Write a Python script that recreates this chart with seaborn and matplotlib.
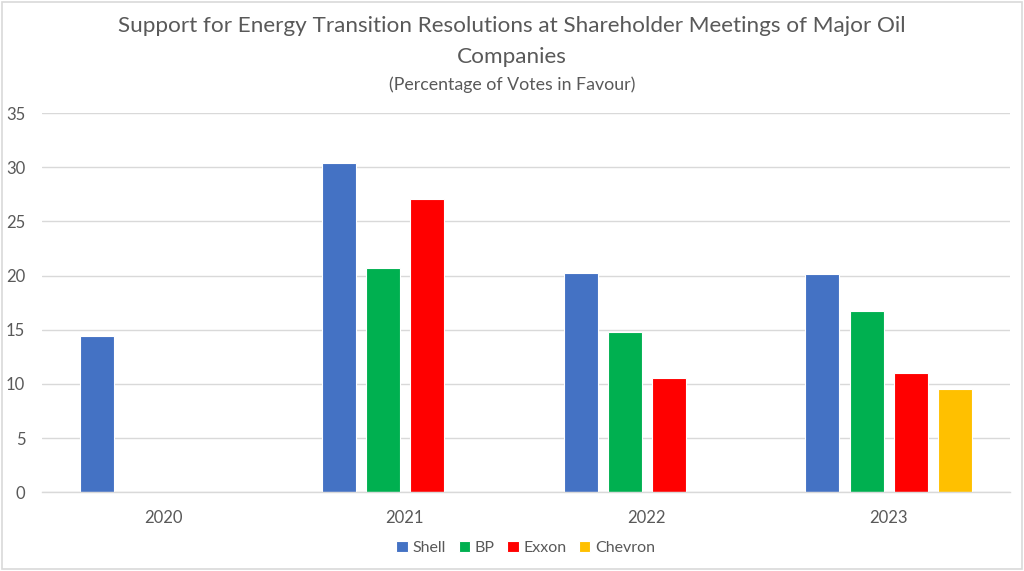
import numpy as np
import pandas as pd
import matplotlib.pyplot as plt
from matplotlib.patches import Rectangle
import seaborn as sns

years = ['2020', '2021', '2022', '2023']
companies = ['Shell', 'BP', 'Exxon', 'Chevron']
shell = [14.4, 30.4, 20.2, 20.1]
bp = [np.nan, 20.7, 14.8, 16.7]
exxon = [np.nan, 27.1, 10.5, 11.0]
chevron = [np.nan, np.nan, np.nan, 9.5]
colors = ['#4472C4', '#00B050', '#FF0000', '#FFC000']

rows = []
for company, values in zip(companies, [shell, bp, exxon, chevron]):
    for year, value in zip(years, values):
        rows.append({'Year': year, 'Company': company, 'Votes': value})
df = pd.DataFrame(rows)

sns.set_theme(style='white')
plt.rcParams['font.family'] = ['Lato', 'DejaVu Sans']
text_color = '#595959'

fig = plt.figure(figsize=(10.24, 5.71), dpi=100)
ax = fig.add_axes([0.041, 0.138, 0.945, 0.664])

sns.barplot(data=df, x='Year', y='Votes', hue='Company', order=years,
            hue_order=companies, palette=colors, width=0.73, gap=0.23,
            edgecolor='white', linewidth=0.8, saturation=1, ax=ax)

ax.set_ylim(0, 35)
ax.set_yticks(range(0, 36, 5))
ax.yaxis.grid(True, color='#d9d9d9', linewidth=1)
ax.set_axisbelow(True)
for side in ['top', 'right', 'left']:
    ax.spines[side].set_visible(False)
ax.spines['bottom'].set_color('#d9d9d9')
ax.spines['bottom'].set_linewidth(1)
ax.tick_params(axis='x', length=0, pad=13, labelsize=12, labelcolor=text_color)
ax.tick_params(axis='y', length=0, pad=12, labelsize=12, labelcolor=text_color)
ax.set_xlabel('')
ax.set_ylabel('')

handles, labels = ax.get_legend_handles_labels()
ax.legend(handles, labels, loc='center', bbox_to_anchor=(0.5, -0.147), ncol=4,
          frameon=False, fontsize=11.5, labelcolor=text_color, handlelength=0.7,
          handleheight=0.7, handletextpad=0.3, columnspacing=0.8)

fig.text(0.5, 0.955, 'Support for Energy Transition Resolutions at Shareholder Meetings of Major Oil',
         ha='center', va='center', fontsize=16.2, color=text_color)
fig.text(0.5, 0.9, 'Companies', ha='center', va='center', fontsize=16.2, color=text_color)
fig.text(0.5, 0.851, '(Percentage of Votes in Favour)', ha='center', va='center',
         fontsize=12.8, color=text_color)

fig.patches.append(Rectangle((0.002, 0.003), 0.996, 0.994, transform=fig.transFigure,
                             fill=False, edgecolor='#d9d9d9', linewidth=1.2))

fig.savefig('out.png', dpi=100)
